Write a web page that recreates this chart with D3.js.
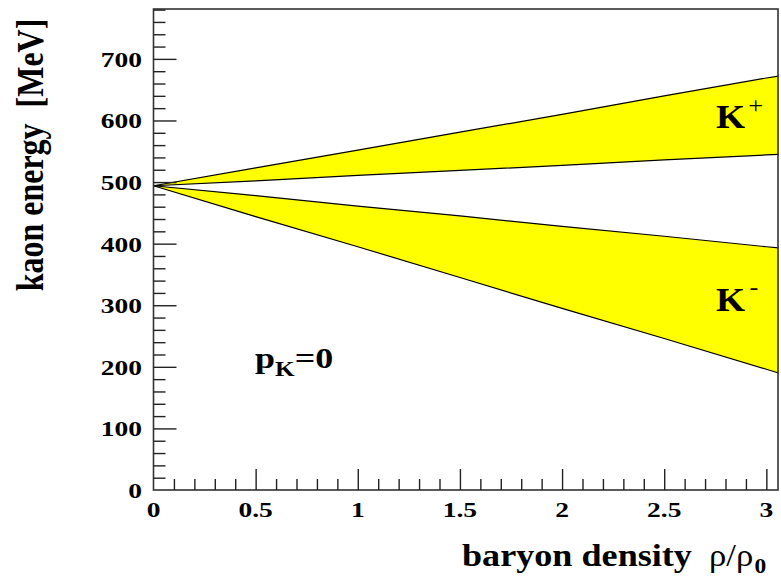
<!DOCTYPE html>
<html>
<head>
<meta charset="utf-8">
<script src="https://cdn.jsdelivr.net/npm/d3@7"></script>
<style>
  html, body { margin: 0; padding: 0; background: #fff; }
  svg { display: block; }
  text { font-family: "Liberation Serif", "Times New Roman", serif; fill: #000; }
</style>
</head>
<body>
<svg id="chart" width="781" height="578"></svg>
<script>
// baryon density in units of normal nuclear density rho/rho0
const density = [0, 0.5, 1, 1.5, 2, 2.5, 3, 3.06];
// kaon energy bands at zero momentum [MeV]
const kPlusUpper  = [494, 523, 552, 581, 610, 640, 669, 672];
const kPlusLower  = [494, 502, 511, 519, 527, 536, 544, 545];
const kMinusUpper = [494, 478, 461, 445, 428, 412, 395, 393];
const kMinusLower = [494, 444, 395, 345, 295, 246, 196, 190];

const xMajorTicks = [0, 0.5, 1, 1.5, 2, 2.5, 3];
const xTickLabels = ["0", "0.5", "1", "1.5", "2", "2.5", "3"];
const yMajorTicks = [0, 100, 200, 300, 400, 500, 600, 700];
const yTickLabels = ["0", "100", "200", "300", "400", "500", "600", "700"];

const svg = d3.select("#chart");
const plotLeft = 153.5, plotRight = 778, plotTop = 9, plotBottom = 490;

const x = d3.scaleLinear().domain([0, 3.057]).range([plotLeft, plotRight]);
const y = d3.scaleLinear().domain([0, 781]).range([plotBottom, plotTop]);

// filled bands
function band(lower, upper) {
  return density.map((d, i) => ({ d, lo: lower[i], hi: upper[i] }));
}
const area = d3.area().x(p => x(p.d)).y0(p => y(p.lo)).y1(p => y(p.hi));

const bands = [band(kPlusLower, kPlusUpper), band(kMinusLower, kMinusUpper)];
svg.selectAll("path.band").data(bands).join("path")
  .attr("class", "band")
  .attr("d", area)
  .attr("fill", "#ffff00");

[kPlusUpper, kPlusLower, kMinusUpper, kMinusLower].forEach(vals => {
  svg.append("path")
    .attr("d", d3.line().x((v, i) => x(density[i])).y(v => y(v))(vals))
    .attr("fill", "none")
    .attr("stroke", "#000")
    .attr("stroke-width", 1.2);
});

// frame
svg.append("rect")
  .attr("x", plotLeft).attr("y", plotTop)
  .attr("width", plotRight - plotLeft).attr("height", plotBottom - plotTop)
  .attr("fill", "none").attr("stroke", "#333").attr("stroke-width", 1.6);

const tickStroke = "#222";

// x axis: inward ticks
const xMinor = d3.range(1, 31).map(i => i / 10).filter(v => Math.abs(v * 2 - Math.round(v * 2)) > 1e-6);
const gx = svg.append("g").attr("transform", `translate(0,${plotBottom})`);
gx.call(d3.axisBottom(x).tickValues(xMinor).tickSize(-11).tickFormat(""));
gx.append("g").call(d3.axisBottom(x).tickValues(xMajorTicks.slice(1)).tickSize(-21).tickFormat(""));
gx.selectAll(".domain").remove();
gx.selectAll("line").attr("stroke", tickStroke).attr("stroke-width", 1.4);

const xLab = svg.append("g").attr("font-weight", "bold").attr("font-size", 22);
xLab.selectAll("text").data(xMajorTicks).join("text")
  .attr("transform", d => `translate(${x(d)},${plotBottom + 27}) scale(1.25,1)`)
  .attr("text-anchor", "middle")
  .text((d, i) => xTickLabels[i]);

// y axis: inward ticks
const yMinor = d3.range(1, 40).map(i => i * 20).filter(v => v % 100 !== 0);
const gy = svg.append("g").attr("transform", `translate(${plotLeft},0)`);
gy.call(d3.axisLeft(y).tickValues(yMinor).tickSize(-12).tickFormat(""));
gy.append("g").call(d3.axisLeft(y).tickValues(yMajorTicks.slice(1)).tickSize(-23).tickFormat(""));
gy.selectAll(".domain").remove();
gy.selectAll("line").attr("stroke", tickStroke).attr("stroke-width", 1.4);

const yLab = svg.append("g").attr("font-weight", "bold").attr("font-size", 22);
yLab.selectAll("text").data(yMajorTicks).join("text")
  .attr("transform", d => `translate(142,${y(d) + 8}) scale(1.25,1)`)
  .attr("text-anchor", "end")
  .text((d, i) => yTickLabels[i]);

// x axis title
svg.append("text")
  .attr("transform", `translate(462,566) scale(1.13,1)`)
  .attr("font-size", 32).attr("font-weight", "bold")
  .text("baryon density");
const rho = svg.append("text")
  .attr("transform", `translate(709,566) scale(1.12,1)`)
  .attr("font-size", 31);
rho.append("tspan").text("ρ/ρ");
rho.append("tspan").attr("font-size", 21).attr("font-weight", "bold").attr("dx", 1).attr("dy", 7).text("0");

// y axis title
svg.append("text")
  .attr("transform", `translate(43,155) scale(1.18,1) rotate(-90)`)
  .attr("text-anchor", "middle")
  .attr("font-size", 32).attr("font-weight", "bold")
  .attr("xml:space", "preserve")
  .text("kaon energy  [MeV]");

// band labels
const kp = svg.append("text")
  .attr("transform", `translate(716,128) scale(1.1,1)`)
  .attr("font-size", 34).attr("font-weight", "bold");
kp.append("tspan").text("K");
kp.append("tspan").attr("font-size", 24).attr("font-weight", "normal").attr("dx", 3).attr("dy", -15).text("+");

const km = svg.append("text")
  .attr("transform", `translate(716,311) scale(1.1,1)`)
  .attr("font-size", 34).attr("font-weight", "bold");
km.append("tspan").text("K");
km.append("tspan").attr("font-size", 24).attr("font-weight", "normal").attr("dx", 4).attr("dy", -16).text("-");

// momentum annotation
const pk = svg.append("text")
  .attr("transform", `translate(255,368) scale(1.2,1)`)
  .attr("font-size", 30).attr("font-weight", "bold");
pk.append("tspan").text("p");
pk.append("tspan").attr("font-size", 21).attr("dy", 8).text("K");
pk.append("tspan").attr("dy", -8).text("=0");
</script>
</body>
</html>
